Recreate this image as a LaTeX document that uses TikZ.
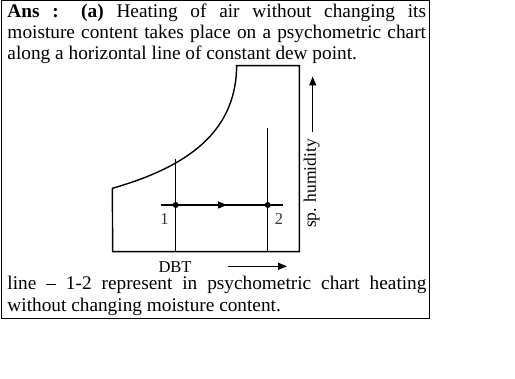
\documentclass[tikz,border=0pt]{standalone}
\usepackage{fontspec}
\setmainfont{Liberation Serif}
\usetikzlibrary{arrows.meta}
\begin{document}
\begin{tikzpicture}[x=1pt,y=-1pt,
  bodytext/.style={anchor=base west,inner sep=0pt,font=\fontsize{19.3}{21}\selectfont},
  chartline/.style={line width=1.4pt,black},
  chartlabel/.style={inner sep=0pt,font=\fontsize{17.5}{19}\selectfont},
  ptlabel/.style={inner sep=0pt,text=black!80,font=\fontsize{16.5}{18}\selectfont},
  dot/.style={circle,fill=black,inner sep=0pt,minimum size=6pt},
  tip/.style={-{Triangle[length=9pt,width=7pt]}}]
\useasboundingbox (0,0) rectangle (515,379);
% frame
\draw[line width=1pt] (1.5,0.5) rectangle (429,318.5);
% top text
\node[bodytext] (t1) at (7.3,17.3) {\makebox[418.5pt][s]{\textbf{Ans : (a)} Heating of air without changing its}};
\node[bodytext] (t2) at (7.3,38.3) {\makebox[418.5pt][s]{moisture content takes place on a psychometric chart}};
\node[bodytext] (t3) at (7.3,59.3) {along a horizontal line of constant dew point.};
% bottom text
\node[bodytext] (b1) at (7.3,290) {\makebox[419pt][s]{line -- 1-2 represent in psychometric chart heating}};
\node[bodytext] (b2) at (7.3,311.5) {without changing moisture content.};
% chart outline
\draw[chartline,line join=miter] (112.3,188.3) -- (112.7,251.7) -- (299.3,251.7) -- (299.3,65.7) -- (236.7,65.7)
  .. controls (236,125) and (198,164) .. (112.3,188.3);
% vertical lines
\coordinate (v1t) at (175.7,159);
\coordinate (v1b) at (175.7,251.7);
\coordinate (v2t) at (267.7,127.7);
\coordinate (v2b) at (267.7,251.7);
\draw[chartline] (v1t) -- (v1b);
\draw[chartline] (v2t) -- (v2b);
% horizontal process line
\coordinate (hl) at (160.7,205);
\coordinate (hr) at (282.7,205);
\coordinate (hm) at (227,205);
\node[dot] (p1) at (175.7,205) {};
\node[dot] (p2) at (267.7,205) {};
\draw[chartline] (hl) -- (hr);
\draw[chartline,tip] (p1.center) -- (hm);
\node[ptlabel] (l1) at (164.5,218.7) {1};
\node[ptlabel] (l2) at (279,218.7) {2};
% DBT axis label
\node[chartlabel,anchor=base,font=\fontsize{16.5}{18}\selectfont] (dbt) at (175,272.3) {DBT};
\coordinate (da) at (228.3,266.3);
\coordinate (db) at (287,266.3);
\draw[line width=1.4pt,tip] (da) -- (db);
% sp. humidity label
\node[chartlabel,rotate=90] (sph) at (311.7,183.5) {sp. humidity};
\coordinate (ha) at (312.7,131.7);
\coordinate (hb) at (312.7,76.5);
\draw[line width=1.4pt,tip] (ha) -- (hb);
\end{tikzpicture}
\end{document}
